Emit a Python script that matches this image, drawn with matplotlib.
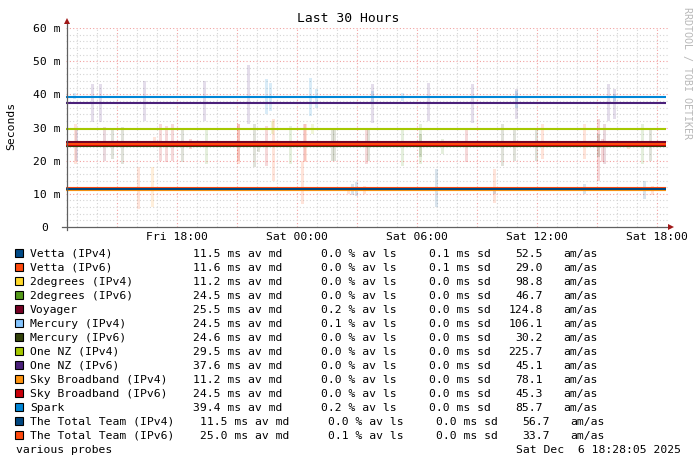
import numpy as np
import matplotlib
matplotlib.use("Agg")
import matplotlib.pyplot as plt
from matplotlib.colors import to_rgba

# ---------------- data ----------------
names = ["Vetta (IPv4)", "Vetta (IPv6)", "2degrees (IPv4)", "2degrees (IPv6)", "Voyager",
         "Mercury (IPv4)", "Mercury (IPv6)", "One NZ (IPv4)", "One NZ (IPv6)",
         "Sky Broadband (IPv4)", "Sky Broadband (IPv6)", "Spark",
         "The Total Team (IPv4)", "The Total Team (IPv6)"]
colors = ["#004a87", "#ff4a0d", "#ffd92a", "#559a1b", "#750023",
          "#85c5ff", "#32420a", "#a5c800", "#4a207a",
          "#ff9410", "#c8000a", "#0086d6",
          "#00467f", "#ff4a0d"]
med_avg = [11.5, 11.6, 11.2, 24.5, 25.5, 24.5, 24.6, 29.5, 37.6, 11.2, 24.5, 39.4, 11.5, 25.0]
loss_avg = [0.0, 0.0, 0.0, 0.0, 0.2, 0.1, 0.0, 0.0, 0.0, 0.0, 0.0, 0.2, 0.0, 0.1]
sd_avg = [0.1, 0.1, 0.0, 0.0, 0.0, 0.0, 0.0, 0.0, 0.0, 0.0, 0.0, 0.0, 0.0, 0.0]
am_as = [52.5, 29.0, 98.8, 46.7, 124.8, 106.1, 30.2, 225.7, 45.1, 78.1, 45.3, 85.7, 56.7, 33.7]

# hourly median values (ms), 30 hours, oldest first
medians = {
    "Vetta (IPv4)":          [11.4] * 30,
    "Vetta (IPv6)":          [11.8] * 30,
    "2degrees (IPv4)":       [11.2] * 30,
    "2degrees (IPv6)":       [24.6] * 30,
    "Voyager":               [25.7] * 30,
    "Mercury (IPv4)":        [24.6] * 30,
    "Mercury (IPv6)":        [24.3] * 30,
    "One NZ (IPv4)":         [29.5, 29.5, 29.4, 29.5, 29.5, 29.5, 29.4, 29.5, 29.5, 29.5,
                              29.5, 29.5, 29.4, 29.5, 29.5, 29.5, 29.5, 29.4, 29.5, 29.5,
                              29.5, 29.4, 29.5, 29.5, 29.5, 29.5, 29.4, 29.5, 29.5, 29.5],
    "One NZ (IPv6)":         [37.5, 37.4, 37.5, 37.5, 37.4, 37.5, 37.5, 37.5, 37.4, 37.5,
                              37.5, 37.4, 37.5, 37.5, 37.5, 37.4, 37.5, 37.5, 37.4, 37.5,
                              37.5, 37.5, 37.4, 37.5, 37.5, 37.4, 37.5, 37.5, 37.5, 37.5],
    "Sky Broadband (IPv4)":  [11.2] * 30,
    "Sky Broadband (IPv6)":  [24.6] * 30,
    "Spark":                 [39.2, 39.3, 39.2, 39.2, 39.3, 39.2, 39.2, 39.2, 39.3, 39.2,
                              39.2, 39.3, 39.2, 39.3, 39.2, 39.3, 39.2, 39.2, 39.3, 39.2,
                              39.3, 39.2, 39.3, 39.2, 39.3, 39.2, 39.3, 39.2, 39.3, 39.3],
    "The Total Team (IPv4)": [11.4] * 30,
    "The Total Team (IPv6)": [25.1] * 30,
}

# smoke spikes: (hour since start, low ms, high ms)
smoke = {
    "One NZ (IPv6)": [(1.3, 31.7, 43.1), (1.7, 31.7, 43.1), (3.9, 32, 44), (6.9, 32, 44),
                      (9.1, 31, 48.8), (15.3, 31.5, 43), (18.1, 32, 43.3), (20.3, 31.5, 43),
                      (22.5, 32.5, 41.5), (27.1, 32, 43), (27.4, 32.5, 41.5), (0.5, 20, 30)],
    "Spark": [(0.4, 38.5, 40.5), (10.0, 34.0, 44.6), (10.2, 35, 43.5), (12.2, 33.5, 45),
              (12.5, 36, 41.5), (15.3, 37, 41), (16.8, 38, 40.5), (22.5, 36, 41), (27.4, 38, 40.2)],
    "Sky Broadband (IPv6)": [(4.7, 19.8, 31), (5.0, 19.5, 30.5), (5.3, 20, 31), (6.2, 23.5, 26.5),
                             (8.6, 20, 31), (10.0, 18.5, 30.5), (11.9, 19.8, 31), (15.0, 19, 29.5),
                             (20.0, 19.5, 30), (26.6, 13.8, 32.5), (26.8, 19.5, 26.5)],
    "The Total Team (IPv6)": [(0.45, 19, 31), (4.4, 24, 27), (8.6, 19, 31), (10.35, 13.8, 32.5),
                              (11.95, 19.5, 31), (23.8, 20.5, 31), (25.9, 20.5, 31), (28.1, 23.5, 24.5),
                              (3.6, 5.4, 18), (11.8, 7, 20), (21.4, 7.3, 17.5),
                              (14.1, 10, 12), (14.9, 10, 12.5), (29.3, 9.5, 12.3)],
    "Mercury (IPv6)": [(2.3, 20.5, 30), (2.8, 19, 30.3), (5.8, 19.5, 30), (9.4, 18, 31),
                       (9.6, 22.5, 26), (13.4, 20, 29.5), (15.1, 20, 29.5), (17.7, 21, 28),
                       (21.8, 18.5, 31), (22.4, 19.8, 29.5), (23.5, 19.8, 29.5), (26.6, 21, 28),
                       (29.2, 20, 29.5), (13.3, 20, 29.5)],
    "Voyager": [(1.9, 20, 30.3), (26.9, 19, 31)],
    "2degrees (IPv6)": [(7.0, 19, 30), (11.2, 19, 30.5), (16.8, 18.5, 30), (17.7, 19, 31),
                        (18.8, 22, 26.5), (28.8, 19, 31)],
    "One NZ (IPv4)": [(10.3, 28, 32), (12.3, 28, 31)],
    "Vetta (IPv4)": [(14.5, 9.3, 13.5), (18.5, 6, 17.5), (21.4, 10, 12), (25.9, 10, 13),
                     (28.9, 8.5, 13.8)],
    "Sky Broadband (IPv4)": [(4.3, 6, 18)],
    "The Total Team (IPv4)": [(14.3, 9.5, 13)],
}

y_ticks = [0, 10, 20, 30, 40, 50, 60]
y_labels = ["0", "10 m", "20 m", "30 m", "40 m", "50 m", "60 m"]
x_label_hours = [5.533, 11.533, 17.533, 23.533, 29.533]
x_labels = ["Fri 18:00", "Sat 00:00", "Sat 06:00", "Sat 12:00", "Sat 18:00"]
total_hours = 30

# ---------------- layout helpers ----------------
W, H = 697, 464
FONT = "DejaVu Sans Mono"
FS = 8.2


def fx(px):
    return px / W


def fy(py):
    return 1 - py / H


fig = plt.figure(figsize=(W / 100, H / 100), dpi=100)
fig.patch.set_facecolor("white")

x0_px, x1_px = 66.3, 668.0
ytop_px, ybot_px = 29.0, 228.0
ax = fig.add_axes([fx(x0_px), fy(ybot_px), fx(x1_px) - fx(x0_px), fy(ytop_px) - fy(ybot_px)])
ax.set_xlim(0, (x1_px - x0_px) / 20.0)
ax.set_ylim(0, 60)
ax.set_facecolor("white")
for s in ax.spines.values():
    s.set_visible(False)
ax.set_xticks([])
ax.set_yticks([])

# grid
dot = (0, (1, 2))
first_hour = 0.533
hours = np.arange(first_hour, 30.2, 1.0)
for i, h in enumerate(hours):
    major = (i % 3 == 2)
    ax.axvline(h, color="#f2a0a0" if major else "#d4d4d4", lw=0.8, ls=dot, zorder=0)
for v in np.arange(2, 61, 2):
    major = (v % 10 == 0)
    ax.axhline(v, color="#f2a0a0" if major else "#d4d4d4", lw=0.8, ls=dot, zorder=0)

# smoke
for name, spikes in smoke.items():
    c = colors[names.index(name)]
    xs = [s[0] for s in spikes]
    lows = [s[1] for s in spikes]
    highs = [s[2] for s in spikes]
    ax.bar(xs, np.array(highs) - np.array(lows), bottom=lows, width=0.17,
           color=to_rgba(c, 0.15), linewidth=0, zorder=1)

# median lines
edges = np.arange(total_hours + 1)
for i, name in enumerate(names):
    ax.stairs(medians[name], edges, color=colors[i], lw=1.5, baseline=None, zorder=2 + i * 0.01)

# axes lines and arrows
fig.add_artist(plt.Line2D([fx(62), fx(670)], [fy(228), fy(228)], color="#606060", lw=0.9))
fig.add_artist(plt.Line2D([fx(67), fx(67)], [fy(231), fy(23)], color="#606060", lw=0.9))
fig.add_artist(plt.Line2D([fx(671)], [fy(228)], marker=">", color="#a01818", ms=4.5, mew=0))
fig.add_artist(plt.Line2D([fx(67)], [fy(22)], marker="^", color="#a01818", ms=4.5, mew=0))

# y tick labels
for v, lab in zip(y_ticks, y_labels):
    py = ybot_px - v * (ybot_px - ytop_px) / 60
    if lab == "0":
        fig.text(fx(48), fy(py), lab, ha="right", va="center", family=FONT, fontsize=FS)
    else:
        fig.text(fx(60), fy(py), lab, ha="right", va="center", family=FONT, fontsize=FS)

# x tick labels
for h, lab in zip(x_label_hours, x_labels):
    px = x0_px + 20 * h
    fig.text(fx(px), fy(237.5), lab, ha="center", va="center", family=FONT, fontsize=FS)

# title, y label, watermark
fig.text(fx(348), fy(19), "Last 30 Hours", ha="center", va="center", family=FONT, fontsize=9.4)
fig.text(fx(11), fy(126), "Seconds", ha="center", va="center", rotation=90, family=FONT, fontsize=FS)
fig.text(fx(687), fy(73), "RRDTOOL / TOBI OETIKER", ha="center", va="center", rotation=-90,
         family=FONT, fontsize=7.2, color="#b8b8b8")

# legend
for i, name in enumerate(names):
    py = 254 + 14.0 * i
    off = 7 if name.startswith("The Total Team") else 0
    fig.add_artist(plt.Rectangle((fx(15), fy(py + 4)), 8 / W, 8 / H, facecolor=colors[i],
                                 edgecolor="black", lw=0.8))
    fig.text(fx(30), fy(py), name, ha="left", va="center", family=FONT, fontsize=FS)
    fig.text(fx(193 + off), fy(py), f"{med_avg[i]:.1f} ms av md", ha="left", va="center",
             family=FONT, fontsize=FS)
    fig.text(fx(321 + off), fy(py), f"{loss_avg[i]:.1f} % av ls", ha="left", va="center",
             family=FONT, fontsize=FS)
    fig.text(fx(429 + off), fy(py), f"{sd_avg[i]:.1f} ms sd", ha="left", va="center",
             family=FONT, fontsize=FS)
    fig.text(fx(543 + off), fy(py), f"{am_as[i]:.1f}", ha="right", va="center",
             family=FONT, fontsize=FS)
    fig.text(fx(563 + off), fy(py), "am/as", ha="left", va="center", family=FONT, fontsize=FS)

fig.text(fx(16), fy(450), "various probes", ha="left", va="center", family=FONT, fontsize=FS)
fig.text(fx(681), fy(450), "Sat Dec  6 18:28:05 2025", ha="right", va="center", family=FONT, fontsize=FS)

fig.savefig("out.png", dpi=100, facecolor="white")
